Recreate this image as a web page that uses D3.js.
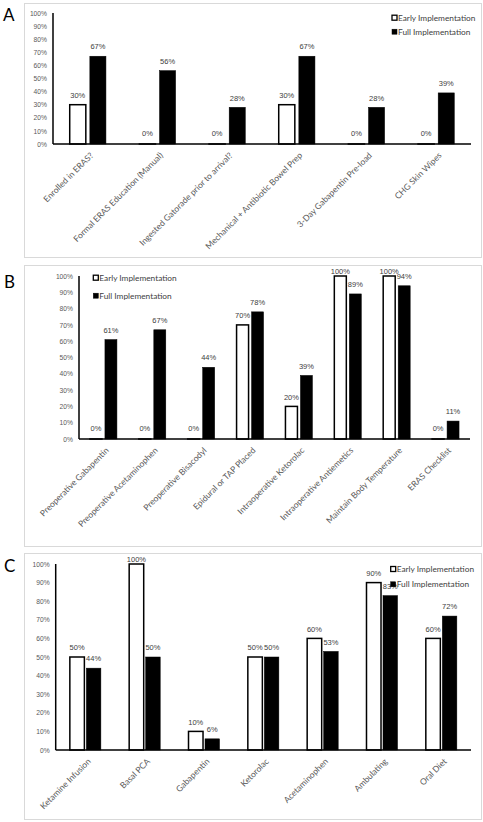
<!DOCTYPE html>
<html>
<head>
<meta charset="utf-8">
<script src="https://cdn.jsdelivr.net/npm/d3@7/dist/d3.min.js"></script>
<style>
  html, body { margin: 0; padding: 0; background: #fff; }
  svg { display: block; }
</style>
</head>
<body>
<svg id="chart" width="483" height="822"></svg>
<script>
// ---------- DATA ----------
const seriesNames = ["Early Implementation", "Full Implementation"];
const yTicks = [0, 0.1, 0.2, 0.3, 0.4, 0.5, 0.6, 0.7, 0.8, 0.9, 1.0];

const categoriesA = ["Enrolled in ERAS?", "Formal ERAS Education (Manual)", "Ingested Gatorade prior to arrival?",
  "Mechanical + Antibiotic Bowel Prep", "3-Day Gabapentin Pre-load", "CHG Skin Wipes"];
const earlyA = [0.30, 0.00, 0.00, 0.30, 0.00, 0.00];
const fullA  = [0.67, 0.56, 0.28, 0.67, 0.28, 0.39];

const categoriesB = ["Preoperative Gabapentin", "Preoperative Acetaminophen", "Preoperative Bisacodyl",
  "Epidural or TAP Placed", "Intraoperative Ketorolac", "Intraoperative Antiemetics",
  "Maintain Body Temperature", "ERAS Checklist"];
const earlyB = [0.00, 0.00, 0.00, 0.70, 0.20, 1.00, 1.00, 0.00];
const fullB  = [0.61, 0.67, 0.44, 0.78, 0.39, 0.89, 0.94, 0.11];

const categoriesC = ["Ketamine Infusion", "Basal PCA", "Gabapentin", "Ketorolac", "Acetaminophen",
  "Ambulating", "Oral Diet"];
const earlyC = [0.50, 1.00, 0.10, 0.50, 0.60, 0.90, 0.60];
const fullC  = [0.44, 0.50, 0.06, 0.50, 0.53, 0.83, 0.72];

// ---------- LAYOUT ----------
const panels = [
  { letter: "A", cats: categoriesA, early: earlyA, full: fullA,
    box: [24, 3, 481, 257], letterPos: [3, 21],
    x: [53, 471], y: [144, 13], pad: 0.48, subPad: 0.2,
    legend: [392, 17.7, 14] },
  { letter: "B", cats: categoriesB, early: earlyB, full: fullB,
    box: [24, 265, 481, 546], letterPos: [4, 288],
    x: [79, 470], y: [439, 276], pad: 0.448, subPad: 0.2,
    legend: [93.3, 277.7, 18] },
  { letter: "C", cats: categoriesC, early: earlyC, full: fullC,
    box: [24, 553, 481, 819], letterPos: [4, 572],
    x: [55.7, 471], y: [750, 564], pad: 0.477, subPad: 0.12,
    legend: [390.7, 569, 15.3] }
];

const svg = d3.select("#chart");
const fmt = d3.format(".0%");
const labelFont = "'Liberation Sans', Arial, sans-serif";
const catFont = "Lato, 'Open Sans', sans-serif";

panels.forEach(p => {
  const g = svg.append("g");
  // panel frame
  g.append("rect")
    .attr("x", p.box[0] + 0.5).attr("y", p.box[1] + 0.5)
    .attr("width", p.box[2] - p.box[0]).attr("height", p.box[3] - p.box[1])
    .attr("fill", "#fff").attr("stroke", "#d9d9d9").attr("stroke-width", 1);

  // panel letter
  g.append("text")
    .attr("x", p.letterPos[0]).attr("y", p.letterPos[1])
    .attr("font-family", catFont).attr("font-size", 17)
    .attr("fill", "#000").text(p.letter);

  const x0 = d3.scaleBand().domain(p.cats).range(p.x)
    .paddingInner(p.pad).paddingOuter(p.pad / 2);
  const x1 = d3.scaleBand().domain(seriesNames).range([0, x0.bandwidth()])
    .paddingInner(p.subPad).paddingOuter(0);
  const y = d3.scaleLinear().domain([0, 1]).range(p.y);

  // y axis tick labels
  const yAxis = d3.axisLeft(y).tickValues(yTicks).tickFormat(fmt).tickSize(0).tickPadding(6);
  const ya = g.append("g").attr("transform", `translate(${p.x[0]},0)`).call(yAxis);
  ya.select(".domain").remove();
  ya.selectAll("text").attr("font-family", labelFont).attr("font-size", 6.7).attr("fill", "#595959");

  // bars
  const rows = p.cats.map((c, i) => ({ cat: c, vals: [p.early[i], p.full[i]] }));
  const grp = g.selectAll(".grp").data(rows).join("g")
    .attr("transform", d => `translate(${x0(d.cat)},0)`);
  grp.selectAll("rect").data(d => d.vals.map((v, k) => ({ s: seriesNames[k], v, k })))
    .join("rect")
    .attr("x", d => x1(d.s))
    .attr("y", d => Math.min(y(d.v), y(0) - 0.01))
    .attr("width", x1.bandwidth())
    .attr("height", d => Math.max(y(0) - y(d.v), 0.01))
    .attr("fill", d => d.k === 0 ? "#fff" : "#000")
    .attr("stroke", "#000")
    .attr("stroke-width", d => d.k === 0 ? 1.5 : 0.5);

  // data labels
  grp.selectAll("text").data(d => d.vals.map((v, k) => ({ s: seriesNames[k], v, k })))
    .join("text")
    .attr("x", d => x1(d.s) + x1.bandwidth() / 2)
    .attr("y", d => Math.max(y(d.v) - (d.v === 0 ? 8 : 6.8), y(1) - 2))
    .attr("text-anchor", "middle")
    .attr("font-family", labelFont).attr("font-size", 7.5).attr("fill", "#404040")
    .text(d => fmt(d.v));

  // axis lines
  g.append("line").attr("x1", p.x[0]).attr("x2", p.x[0]).attr("y1", y(1)).attr("y2", y(0))
    .attr("stroke", "#000").attr("stroke-width", 1.5);
  g.append("line").attr("x1", p.x[0]).attr("x2", p.x[1]).attr("y1", y(0)).attr("y2", y(0))
    .attr("stroke", "#000").attr("stroke-width", 1.5);

  // category labels
  g.selectAll(".cat").data(p.cats).join("text")
    .attr("transform", d => `translate(${x0(d) + x0.bandwidth() / 2 + 6},${y(0) + 12}) rotate(-45)`)
    .attr("text-anchor", "end")
    .attr("font-family", catFont).attr("font-size", 8.5).attr("fill", "#595959")
    .text(d => d);

  // legend
  const lg = g.append("g");
  seriesNames.forEach((s, k) => {
    const ly = p.legend[1] + k * p.legend[2];
    lg.append("rect").attr("x", p.legend[0]).attr("y", ly - 2.5).attr("width", 5).attr("height", 5)
      .attr("fill", k === 0 ? "#fff" : "#000").attr("stroke", "#000").attr("stroke-width", k === 0 ? 1.3 : 0.5);
    lg.append("text").attr("x", p.legend[0] + 6).attr("y", ly + 2.8)
      .attr("font-family", catFont).attr("font-size", 8.3).attr("fill", "#404040")
      .text(s);
  });
});
</script>
</body>
</html>
